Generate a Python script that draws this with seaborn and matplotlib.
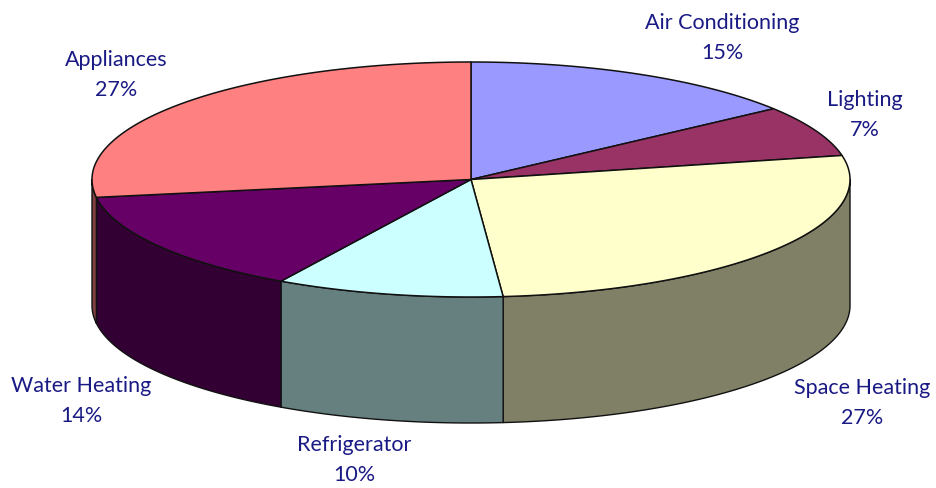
import numpy as np
import matplotlib
matplotlib.use("Agg")
import matplotlib.pyplot as plt
import matplotlib.colors as mcolors
import seaborn as sns

categories = ["Air Conditioning", "Lighting", "Space Heating", "Refrigerator", "Water Heating", "Appliances"]
shares = [14.7, 7.0, 26.9, 9.7, 14.2, 27.4]
top_colors = ["#9999FF", "#993366", "#FFFFCC", "#CCFFFF", "#660066", "#FF8080"]

sns.set_theme(style="white")
plt.rcParams['font.family'] = ['Lato', 'DejaVu Sans']

# pixel layout of the pie
cx, cy = 471, 180.5
rx, ry = 379, 117.5
depth = 126
label_pos = [(722, 38), (865, 115), (862, 403), (354, 460), (81, 401), (116, 75)]


def arc(a0, a1):
    # angles run clockwise from 12 o'clock
    t = np.linspace(a0, a1, 200)
    return cx + rx * np.sin(t), cy - ry * np.cos(t)


fig = plt.figure(figsize=(9.37, 4.89), dpi=100)
ax = fig.add_axes([0, 0, 1, 1])
ax.set_xlim(0, 937)
ax.set_ylim(489, 0)
ax.axis("off")

edges = np.concatenate([[0], np.cumsum(shares) / np.sum(shares)]) * 2 * np.pi

# side walls first, only the front half of the ellipse is visible
for i, col in enumerate(top_colors):
    a0 = max(edges[i], np.pi / 2)
    a1 = min(edges[i + 1], 3 * np.pi / 2)
    if a1 <= a0:
        continue
    x, y = arc(a0, a1)
    dark = np.array(mcolors.to_rgb(col)) * 0.5
    ax.fill(np.r_[x, x[::-1]], np.r_[y, y[::-1] + depth], facecolor=dark,
            edgecolor="#111111", linewidth=1, joinstyle="round")

# top face
for i, col in enumerate(top_colors):
    x, y = arc(edges[i], edges[i + 1])
    ax.fill(np.r_[cx, x], np.r_[cy, y], facecolor=col,
            edgecolor="#111111", linewidth=1.1, joinstyle="round")

for name, val, (lx, ly) in zip(categories, shares, label_pos):
    ax.text(lx, ly, f"{name}\n{round(val)}%", ha="center", va="center", color="#1A1A85",
            fontsize=15.5, fontweight="normal", linespacing=1.65)

plt.savefig("out.png", dpi=100)
